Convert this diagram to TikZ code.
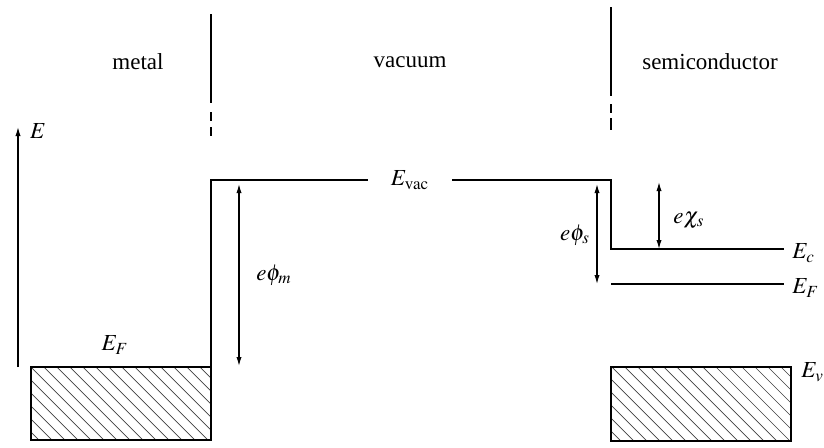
\documentclass[tikz,border=0pt]{standalone}
\usepackage{mathptmx}
\usepackage{fontspec}
\setmainfont{Liberation Serif}
\usepackage{tikz}
\usetikzlibrary{arrows.meta}

\tikzset{
  lab/.style={font=\fontsize{11.5}{13}\selectfont, inner sep=0pt},
  lvl/.style={line width=0.6pt},
  hatch/.style={line width=0.35pt, black!75},
  gap/.style={line width=0.6pt, {Latex[length=4.5pt,width=2.6pt]}-{Latex[length=4.5pt,width=2.6pt]}}
}

\begin{document}
\begin{tikzpicture}[x=0.5pt,y=-0.5pt]
  \useasboundingbox (0,0) rectangle (824,447);

  % region labels
  \node[lab] (metal)  at (138,62) {metal};
  \node[lab] (vacuum) at (410,62) {vacuum};
  \node[lab] (semi)   at (710,62) {semiconductor};

  % interfaces, solid then broken
  \draw[lvl] (211,14) -- (211,103);
  \draw[lvl] (211,112) -- (211,121);
  \draw[lvl] (211,127) -- (211,136);
  \draw[lvl] (611,7) -- (611,96);
  \draw[lvl] (611,104) -- (611,113);
  \draw[lvl] (611,118) -- (611,130);

  % energy axis
  \coordinate (Ebot) at (18,367);
  \coordinate (Etop) at (18,127);
  \draw[lvl, -{Latex[length=4.5pt,width=2.6pt]}] (Ebot) -- (Etop);
  \node[lab] (Eax) at (38,131) {$E$};

  % filled bands
  \begin{scope}
    \clip (31,367) rectangle (211,440);
    \foreach \x in {-60,-47,...,216} \draw[hatch] (\x,367) -- ++(80,80);
  \end{scope}
  \draw[lvl] (31,367) rectangle (211,440);
  \begin{scope}
    \clip (611,367) rectangle (791,441);
    \foreach \x in {547,560,...,796} \draw[hatch] (\x,367) -- ++(80,80);
  \end{scope}
  \draw[lvl] (611,367) rectangle (791,441);

  % vacuum level and conduction band
  \node[lab] (Evac) at (410,180) {$E_{\mathrm{vac}}$};
  \coordinate (vacL) at (368,180);
  \coordinate (vacR) at (452,180);
  \draw[lvl] (211,367) -- (211,180) -- (vacL);
  \draw[lvl] (vacR) -- (611,180) -- (611,249) -- (784,249);
  \draw[lvl] (611,284) -- (784,284);

  % level labels
  \node[lab] (EFm) at (115,345) {$E_F$};
  \node[lab, anchor=west] (Ec)  at (792,253) {$E_c$};
  \node[lab, anchor=west] (EFs) at (792,288) {$E_F$};
  \node[lab, anchor=west] (Ev)  at (801,372) {$E_v$};

  % work functions and affinity
  \coordinate (phimT) at (239,184);
  \coordinate (phimB) at (239,366);
  \draw[gap] (phimT) -- (phimB);
  \node[lab] (ephim) at (274,275) {$e\phi_m$};

  \coordinate (phisT) at (597,184);
  \coordinate (phisB) at (597,284);
  \draw[gap] (phisT) -- (phisB);
  \node[lab] (ephis) at (575,235) {$e\phi_s$};

  \coordinate (chisT) at (659,182);
  \coordinate (chisB) at (659,249);
  \draw[gap] (chisT) -- (chisB);
  \node[lab] (echis) at (689,220) {$e\chi_s$};
\end{tikzpicture}
\end{document}
